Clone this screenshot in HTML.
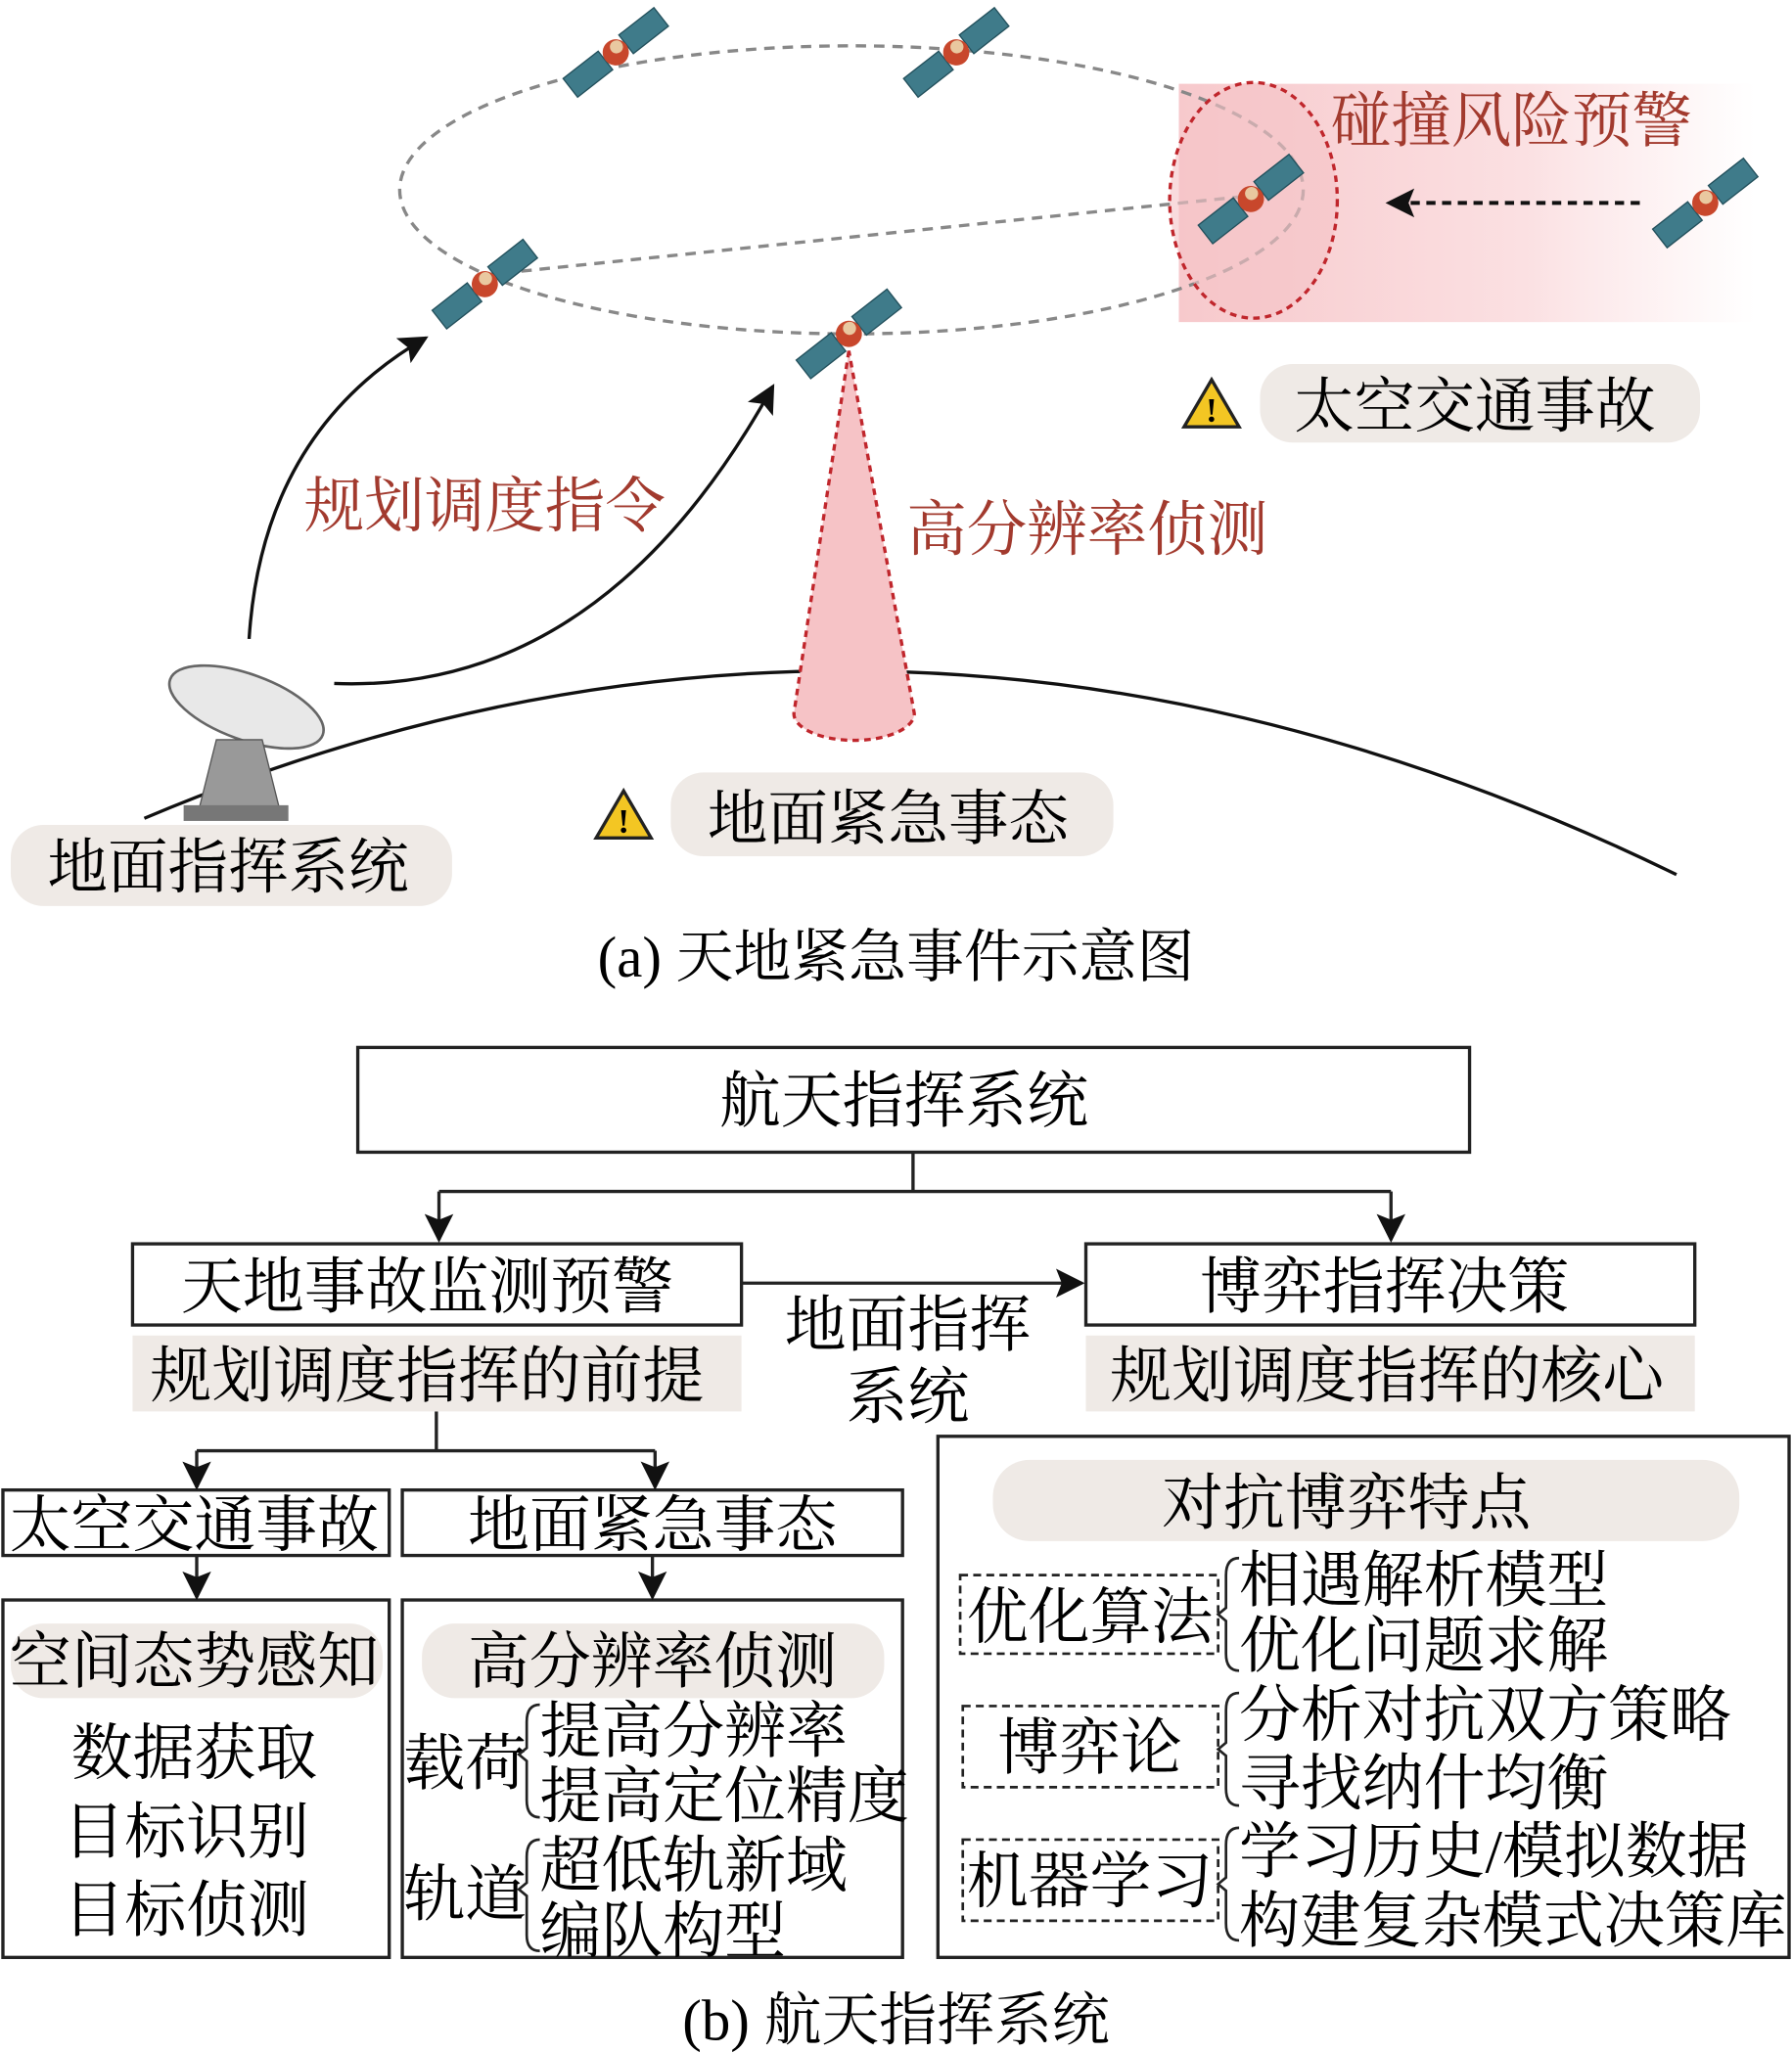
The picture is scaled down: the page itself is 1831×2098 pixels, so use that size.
<!DOCTYPE html>
<html><head><meta charset="utf-8"><style>
html,body{margin:0;padding:0;background:#fff}
svg{display:block}
text{font-family:"Liberation Serif","Noto Serif CJK SC",serif}
</style></head><body>
<svg width="1831" height="2098" viewBox="0 0 1368 1568" xmlns="http://www.w3.org/2000/svg">
<defs>
<linearGradient id="pk" x1="0" x2="1" y1="0" y2="0">
<stop offset="0" stop-color="#f7c9cc"/><stop offset="0.6" stop-color="#fbe0e2"/><stop offset="1" stop-color="#fff" stop-opacity="0.9"/></linearGradient>
<marker id="ab" viewBox="0 0 10 10" refX="9" refY="5" markerWidth="30" markerHeight="22" orient="auto" markerUnits="userSpaceOnUse"><path d="M0,0 L10,5 L0,10 L2,5 Z" fill="#111"/></marker>
<g id="sat">
<rect x="-44" y="-9" width="34" height="18" fill="#3f7b8a" stroke="#23505c" stroke-width="1"/>
<rect x="10" y="-9" width="34" height="18" fill="#3f7b8a" stroke="#23505c" stroke-width="1"/>
<circle r="10" fill="#c8472c"/><circle r="5" cx="3" cy="-3" fill="#e9c8a0"/>
</g>
</defs>
<rect x="900" y="64" width="440" height="182" fill="url(#pk)"/>
<ellipse cx="650" cy="145" rx="345" ry="110" fill="none" stroke="#888" stroke-width="2.5" stroke-dasharray="8,6"/>
<line x1="370" y1="210" x2="950" y2="150" stroke="#888" stroke-width="2.5" stroke-dasharray="8,6"/>
<ellipse cx="957" cy="153" rx="64" ry="90" fill="#f5c3c6" fill-opacity="0.6" stroke="#c0262c" stroke-width="2.5" stroke-dasharray="5,4"/>
<text x="1016" y="108" font-size="46" fill="#a23a2e">碰撞风险预警</text>
<line x1="1252" y1="155" x2="1060" y2="155" stroke="#111" stroke-width="3" stroke-dasharray="7,5" marker-end="url(#ab)"/>
<use href="#sat" transform="translate(470,40) rotate(-38)"/>
<use href="#sat" transform="translate(730,40) rotate(-38)"/>
<use href="#sat" transform="translate(370,217) rotate(-38)"/>
<use href="#sat" transform="translate(648,255) rotate(-38)"/>
<use href="#sat" transform="translate(955,152) rotate(-38)"/>
<use href="#sat" transform="translate(1302,155) rotate(-38)"/>
<path d="M110 625 Q690 380 1280 668" fill="none" stroke="#111" stroke-width="2.5"/>
<path d="M648 268 L606 545 A45 20 0 0 0 698 545 Z" fill="#f6c3c6" stroke="#c0262c" stroke-width="2.5" stroke-dasharray="5,4"/>
<path d="M190 488 Q200 330 325 258" fill="none" stroke="#111" stroke-width="2.5" marker-end="url(#ab)"/>
<path d="M255 522 Q460 530 590 295" fill="none" stroke="#111" stroke-width="2.5" marker-end="url(#ab)"/>
<text x="232" y="402" font-size="46" fill="#a23a2e">规划调度指令</text>
<text x="692" y="420" font-size="46" fill="#a23a2e">高分辨率侦测</text>
<g>
<ellipse cx="188" cy="540" rx="62" ry="25" transform="rotate(20 188 540)" fill="#e8e8e8" stroke="#666" stroke-width="2"/>
<path d="M165 565 L150 625 L215 625 L200 565 Z" fill="#999" stroke="#555"/>
<rect x="140" y="615" width="80" height="12" fill="#777"/>
</g>
<rect x="8" y="630" width="337" height="62" rx="25" fill="#efeae6"/>
<text x="174" y="678" font-size="46" text-anchor="middle">地面指挥系统</text>
<rect x="512" y="590" width="338" height="64" rx="25" fill="#efeae6"/>
<text x="678" y="641" font-size="46" text-anchor="middle">地面紧急事态</text>
<rect x="962" y="278" width="336" height="60" rx="25" fill="#efeae6"/>
<text x="1126" y="326" font-size="46" text-anchor="middle">太空交通事故</text>
<g><path d="M925 290 L946 326 L904 326 Z" fill="#f3c623" stroke="#222" stroke-width="2.5"/><text x="925" y="322" font-size="26" text-anchor="middle" font-weight="bold">!</text></g>
<g><path d="M476 604 L497 640 L455 640 Z" fill="#f3c623" stroke="#222" stroke-width="2.5"/><text x="476" y="636" font-size="26" text-anchor="middle" font-weight="bold">!</text></g>
<text x="684" y="746" font-size="44" text-anchor="middle">(a) 天地紧急事件示意图</text>

<g stroke="#222" stroke-width="2.5" fill="none">
<rect x="273" y="800" width="849" height="80"/>
<rect x="101" y="950" width="465" height="62"/>
<rect x="829" y="950" width="465" height="62"/>
<rect x="2" y="1138" width="295" height="50"/>
<rect x="307" y="1138" width="382" height="50"/>
<rect x="2" y="1222" width="295" height="273"/>
<rect x="307" y="1222" width="382" height="273"/>
<rect x="716" y="1097" width="650" height="398"/>
<path d="M697 880 V910 M335 910 H1062"/>
<line x1="335" y1="910" x2="335" y2="947" marker-end="url(#ab)"/>
<line x1="1062" y1="910" x2="1062" y2="947" marker-end="url(#ab)"/>
<line x1="566" y1="980" x2="826" y2="980" marker-end="url(#ab)"/>
<path d="M333 1078 V1108 M150 1108 H500"/>
<line x1="150" y1="1108" x2="150" y2="1136" marker-end="url(#ab)"/>
<line x1="500" y1="1108" x2="500" y2="1136" marker-end="url(#ab)"/>
<line x1="150" y1="1188" x2="150" y2="1220" marker-end="url(#ab)"/>
<line x1="498" y1="1188" x2="498" y2="1220" marker-end="url(#ab)"/>
</g>
<g stroke="#222" stroke-width="2" fill="none" stroke-dasharray="6,4">
<rect x="733" y="1203" width="197" height="60"/>
<rect x="735" y="1303" width="195" height="62"/>
<rect x="735" y="1405" width="195" height="62"/>
</g>
<rect x="101" y="1020" width="465" height="58" fill="#efeae6"/>
<rect x="829" y="1020" width="465" height="58" fill="#efeae6"/>
<rect x="8" y="1240" width="284" height="57" rx="25" fill="#efeae6"/>
<rect x="322" y="1240" width="353" height="57" rx="25" fill="#efeae6"/>
<rect x="758" y="1115" width="570" height="62" rx="28" fill="#efeae6"/>
<g font-size="47" text-anchor="middle">
<text x="690" y="857">航天指挥系统</text>
<text x="326" y="999">天地事故监测预警</text>
<text x="326" y="1067">规划调度指挥的前提</text>
<text x="1057" y="999">博弈指挥决策</text>
<text x="1059" y="1067">规划调度指挥的核心</text>
<text x="693" y="1028">地面指挥</text>
<text x="693" y="1083">系统</text>
<text x="148" y="1181">太空交通事故</text>
<text x="498" y="1181">地面紧急事态</text>
<text x="148" y="1285">空间态势感知</text>
<text x="148" y="1355">数据获取</text>
<text x="142" y="1415">目标识别</text>
<text x="142" y="1475">目标侦测</text>
<text x="498" y="1285">高分辨率侦测</text>
<text x="1028" y="1164">对抗博弈特点</text>
<text x="832" y="1251">优化算法</text>
<text x="832" y="1351">博弈论</text>
<text x="832" y="1453">机器学习</text>
</g>
<g font-size="47">
<text x="308" y="1363">载荷</text>
<text x="412" y="1338">提高分辨率</text>
<text x="412" y="1388">提高定位精度</text>
<text x="308" y="1463">轨道</text>
<text x="412" y="1441">超低轨新域</text>
<text x="412" y="1491">编队构型</text>
<text x="946" y="1223">相遇解析模型</text>
<text x="946" y="1273">优化问题求解</text>
<text x="946" y="1326">分析对抗双方策略</text>
<text x="946" y="1378">寻找纳什均衡</text>
<text x="946" y="1430">学习历史/模拟数据</text>
<text x="946" y="1483" textLength="418" lengthAdjust="spacingAndGlyphs">构建复杂模式决策库</text>
</g>
<g stroke="#222" stroke-width="2" fill="none">
<path d="M412 1302 Q402 1302 402 1315 V1335 L396 1340 L402 1345 V1375 Q402 1388 412 1388"/>
<path d="M412 1405 Q402 1405 402 1418 V1438 L396 1443 L402 1448 V1478 Q402 1490 412 1490"/>
<path d="M946 1190 Q936 1190 936 1203 V1228 L930 1233 L936 1238 V1263 Q936 1276 946 1276"/>
<path d="M946 1293 Q936 1293 936 1306 V1331 L930 1336 L936 1341 V1366 Q936 1379 946 1379"/>
<path d="M946 1396 Q936 1396 936 1409 V1434 L930 1439 L936 1444 V1469 Q936 1482 946 1482"/>
</g>
<text x="684" y="1558" font-size="44" text-anchor="middle">(b) 航天指挥系统</text>
</svg>
</body></html>
